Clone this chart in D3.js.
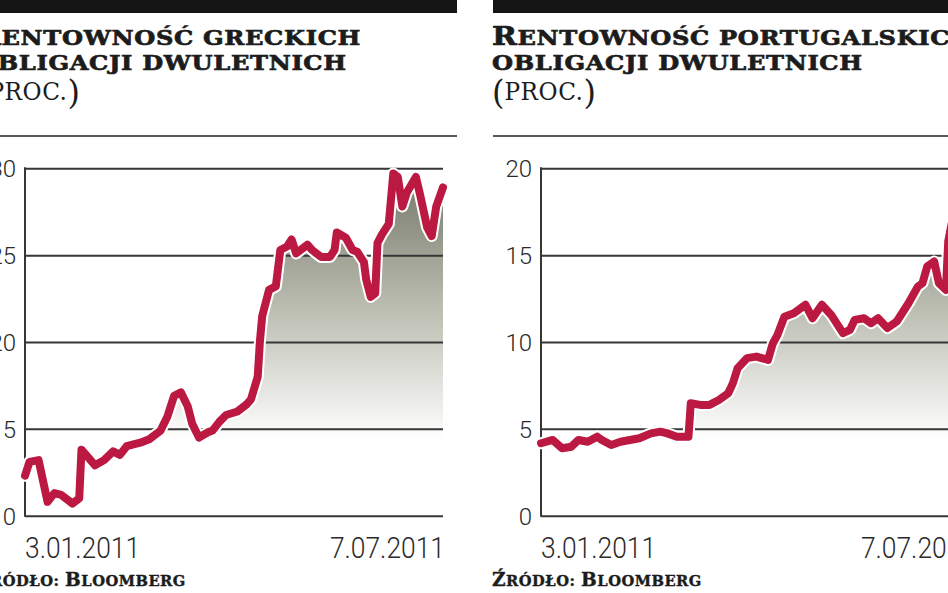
<!DOCTYPE html>
<html>
<head>
<meta charset="utf-8">
<script src="https://cdn.jsdelivr.net/npm/d3@7/dist/d3.min.js"></script>
<style>
html,body{margin:0;padding:0;background:#fff;overflow:hidden}
svg{display:block}
</style>
</head>
<body>
<svg id="chart" width="948" height="593"></svg>
<script>
// ---------- DATA ----------
const greeceDates = ["01-03","01-05","01-09","01-13","01-16","01-19","01-24","01-27","01-28","02-03","02-07","02-11","02-14","02-17","02-23","02-27","03-04","03-07","03-10","03-13","03-16","03-18","03-21","03-25","03-27","03-30","04-02","04-07","04-11","04-13","04-16","04-17","04-18","04-21","04-24","04-26","04-29","05-01","05-03","05-08","05-10","05-14","05-18","05-20","05-21","05-25","05-28","05-30","06-02","06-03","06-05","06-07","06-08","06-10","06-13","06-15","06-17","06-19","06-21","06-25","06-27","06-30","07-02","07-04","07-07"];
const greeceValues = [12.3,13.1,13.2,10.8,11.3,11.2,10.7,11.0,13.8,12.9,13.2,13.7,13.5,14.0,14.2,14.4,14.9,15.7,16.9,17.1,16.3,15.3,14.5,14.8,14.9,15.4,15.8,16.0,16.4,16.7,18.0,20.1,21.5,23.0,23.2,25.3,25.5,25.9,25.1,25.6,25.3,24.9,24.9,25.3,26.3,26.0,25.3,25.2,24.6,23.6,22.6,22.8,25.7,26.2,26.8,29.7,29.5,27.8,28.6,29.5,28.4,26.6,26.1,27.8,28.9];

const portugalDates = ["01-03","01-08","01-12","01-16","01-19","01-23","01-27","01-29","02-02","02-06","02-10","02-14","02-19","02-23","02-26","03-02","03-07","03-08","03-12","03-16","03-20","03-24","03-26","03-28","04-01","04-05","04-10","04-12","04-14","04-17","04-21","04-26","04-29","05-03","05-07","05-12","05-15","05-17","05-21","05-24","05-27","05-31","06-04","06-09","06-13","06-15","06-17","06-20","06-22","06-25","06-26","06-28","07-01","07-04","07-07"];
const portugalValues = [4.17,4.36,3.88,3.97,4.36,4.26,4.55,4.36,4.07,4.26,4.36,4.46,4.74,4.84,4.74,4.55,4.55,6.47,6.38,6.38,6.66,7.05,7.63,8.49,9.07,9.16,8.97,9.9,10.4,11.46,11.66,12.14,11.37,12.14,11.56,10.51,10.7,11.27,11.37,11.08,11.37,10.8,11.18,12.23,13.19,13.39,14.34,14.63,13.39,13.0,15.8,17.2,16.8,17.6,18.9];

const greeceTicks = [10,15,20,25,30];
const portugalTicks = [0,5,10,15,20];
const dateDomain = ["2011-01-03","2011-07-07"];
const dateTickLabels = ["3.01.2011","7.07.2011"];
const greeceTitle = ["R","ENTOWNOŚĆ GRECKICH","OBLIGACJI DWULETNICH","PROC."];
const portugalTitle = ["R","ENTOWNOŚĆ PORTUGALSKICH","OBLIGACJI DWULETNICH","PROC."];
const sourceText = ["Ź","RÓDŁO: ","B","LOOMBERG"];

// ---------- DRAW ----------
const svg = d3.select("#chart");
const parse = d3.timeParse("%Y-%m-%d");
const defs = svg.append("defs");
const grad = defs.append("linearGradient").attr("id","areaGrad")
  .attr("gradientUnits","userSpaceOnUse").attr("x1",0).attr("x2",0).attr("y1",168).attr("y2",440);
grad.append("stop").attr("offset",0).attr("stop-color","#727467");
grad.append("stop").attr("offset",0.5).attr("stop-color","#b9bbae");
grad.append("stop").attr("offset",1).attr("stop-color","#ffffff");

const serif = "'DejaVu Serif', serif";
const sans = "Roboto, 'DejaVu Sans', sans-serif";
const RED = "#bb1942";
const INK = "#1c1c1c";

function panel(cfg){
  const g = svg.append("g");
  const L = cfg.left, A = cfg.axis, R = cfg.right;
  const top = 168.3, bottom = 515.7;

  // black bar
  g.append("rect").attr("x",L+1).attr("y",0).attr("width",cfg.barEnd-L-1).attr("height",13).attr("fill","#141414");
  // title
  const t1 = g.append("text").attr("font-family",serif).attr("font-weight","bold").attr("fill",INK)
    .attr("stroke",INK).attr("stroke-width",0.7).attr("letter-spacing",0.6);
  t1.append("tspan").attr("font-size",26).text(cfg.title[0]);
  t1.append("tspan").attr("font-size",21).text(cfg.title[1]);
  const t2 = g.append("text").attr("font-family",serif).attr("font-weight","bold").attr("fill",INK)
    .attr("stroke",INK).attr("stroke-width",0.7)
    .attr("font-size",21).attr("letter-spacing",0.6).text(cfg.title[2]);
  const t3 = g.append("text").attr("font-family",serif).attr("fill",INK);
  t3.append("tspan").attr("font-size",33).attr("dy",4).text("(");
  t3.append("tspan").attr("font-size",24).attr("dy",-4).attr("letter-spacing",0.5).text(cfg.title[3]);
  t3.append("tspan").attr("font-size",33).attr("dy",4).text(")");
  const w2 = t2.node().getBBox().width;
  const sx = 371 / w2;
  t1.attr("transform",`translate(${L},45) scale(${sx},1)`);
  t2.attr("transform",`translate(${L},70) scale(${sx},1)`);
  const w3 = t3.node().getBBox().width;
  t3.attr("transform",`translate(${L},100) scale(${104/w3},1)`);
  // rule
  g.append("line").attr("x1",L+1).attr("x2",cfg.barEnd).attr("y1",136).attr("y2",136)
    .attr("stroke","#5a5a5a").attr("stroke-width",2.2);

  const x = d3.scaleTime().domain(dateDomain.map(parse)).range([A,R]);
  const y = d3.scaleLinear().domain(cfg.domain).range([bottom,top]);
  const data = cfg.dates.map((d,i)=>({d:parse("2011-"+d), v:cfg.values[i]}));

  // area
  g.append("path").datum(data)
    .attr("d", d3.area().x(p=>x(p.d)).y0(bottom).y1(p=>y(p.v)))
    .attr("fill","url(#areaGrad)");

  // gridlines via axis
  const ax = d3.axisLeft(y).tickValues(cfg.ticks).tickSize(-(R-A)).tickPadding(9).tickFormat(d3.format("d"));
  const ag = g.append("g").attr("transform",`translate(${A},0)`).call(ax);
  ag.select(".domain").remove();
  ag.selectAll(".tick line").attr("stroke","#363636").attr("stroke-width",2);
  ag.selectAll(".tick text").attr("font-family",sans).attr("font-weight",300).attr("font-size",24)
    .attr("fill","#2a2a2a").attr("dy","0.36em");
  // y axis line
  g.append("line").attr("x1",A).attr("x2",A).attr("y1",top-1).attr("y2",bottom+1)
    .attr("stroke","#363636").attr("stroke-width",2);

  // line with white halo
  const line = d3.line().x(p=>x(p.d)).y(p=>y(p.v)).curve(d3.curveLinear);
  g.append("path").datum(data).attr("d",line).attr("fill","none").attr("stroke","#fff")
    .attr("stroke-width",12).attr("stroke-linejoin","round").attr("stroke-linecap","round");
  g.append("path").datum(data).attr("d",line).attr("fill","none").attr("stroke",RED)
    .attr("stroke-width",8).attr("stroke-linejoin","round").attr("stroke-linecap","round");

  // date labels
  const xd = x.domain();
  g.append("text").attr("transform",`translate(${x(xd[0])},558) scale(0.88,1)`)
    .attr("font-family",sans).attr("font-weight",300).attr("font-size",30).attr("fill","#2a2a2a")
    .text(dateTickLabels[0]);
  g.append("text").attr("transform",`translate(${x(xd[1])+2},558) scale(0.88,1)`).attr("text-anchor","end")
    .attr("font-family",sans).attr("font-weight",300).attr("font-size",30).attr("fill","#2a2a2a")
    .text(dateTickLabels[1]);

  // source
  const s = g.append("text").attr("font-family",serif).attr("font-weight","bold").attr("fill",INK)
    .attr("stroke",INK).attr("stroke-width",0.4).attr("letter-spacing",0.5);
  s.append("tspan").attr("font-size",19).text(sourceText[0]);
  s.append("tspan").attr("font-size",15).text(sourceText[1]);
  s.append("tspan").attr("font-size",19).text(sourceText[2]);
  s.append("tspan").attr("font-size",15).text(sourceText[3]);
  const ws = s.node().getBBox().width;
  s.attr("transform",`translate(${L},586) scale(${210/ws},1)`);
}

panel({left:-24, axis:25, right:443, barEnd:457, domain:[10,30], ticks:greeceTicks,
  dates:greeceDates, values:greeceValues, title:greeceTitle});
panel({left:492, axis:541, right:974, barEnd:1000, domain:[0,20], ticks:portugalTicks,
  dates:portugalDates, values:portugalValues, title:portugalTitle});
</script>
</body>
</html>
